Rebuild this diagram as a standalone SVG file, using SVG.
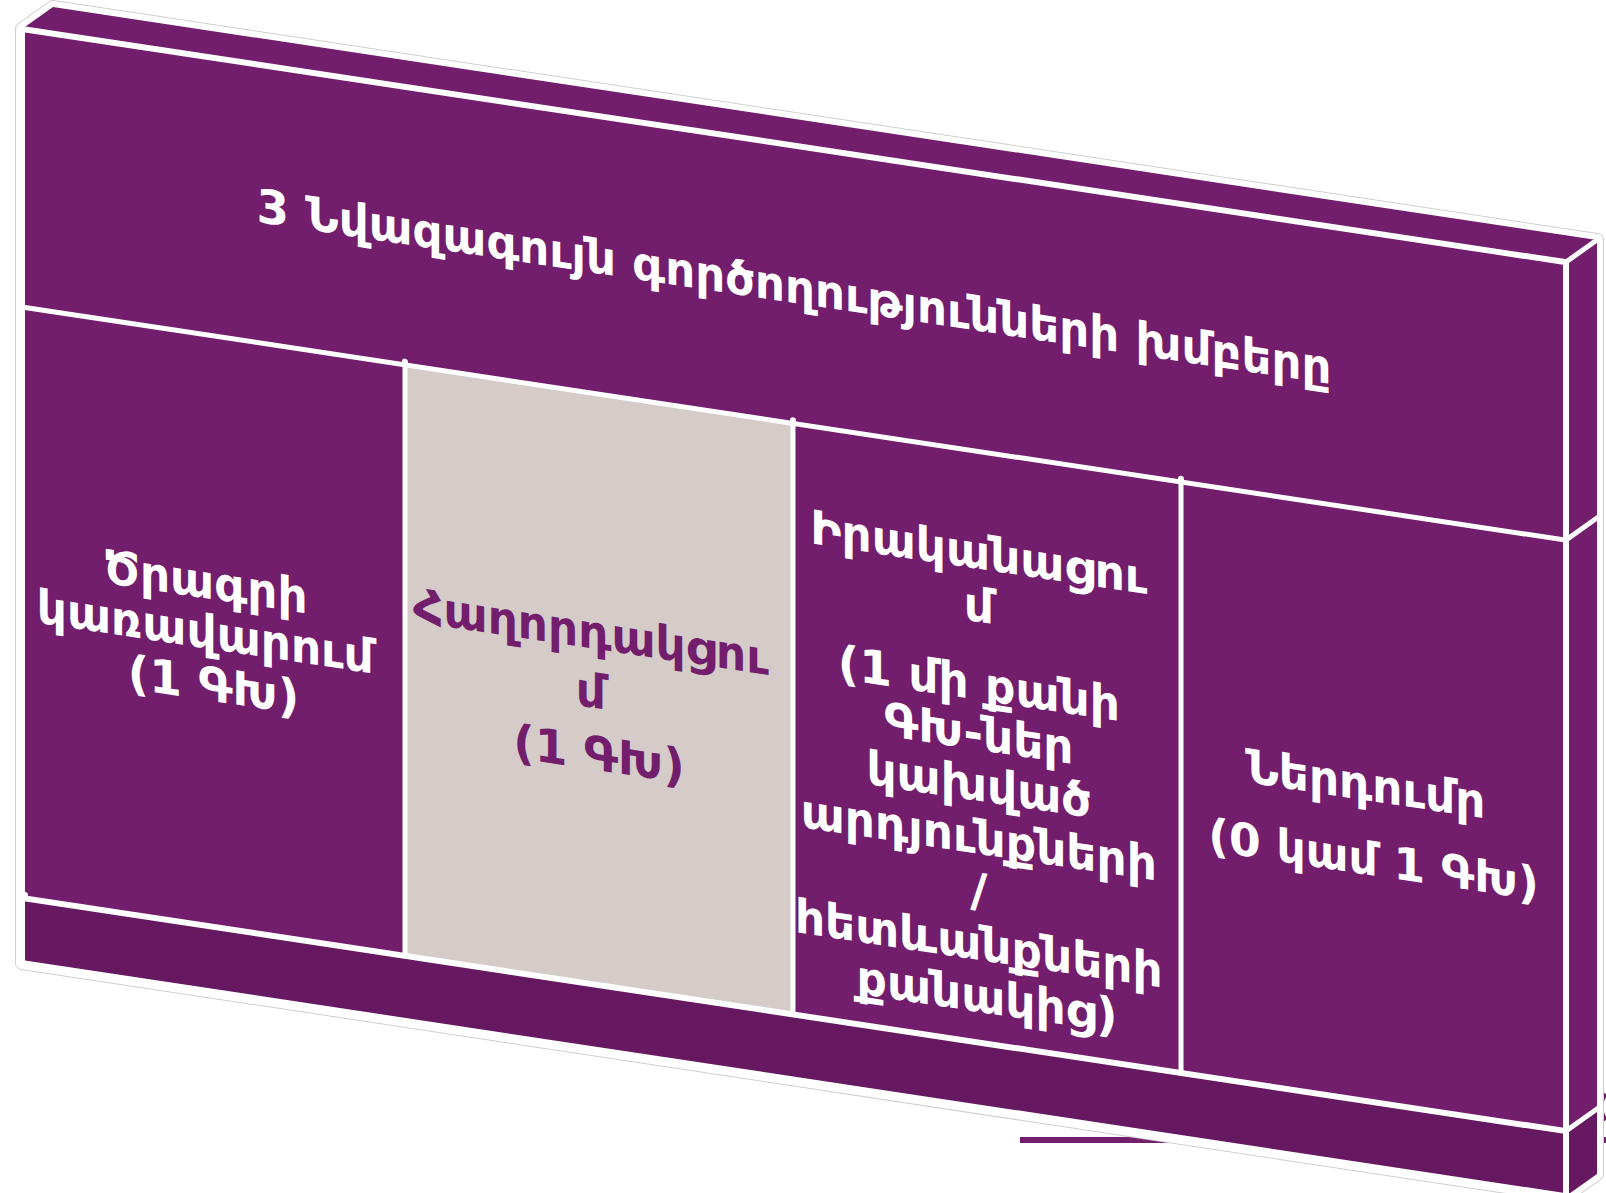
<svg xmlns="http://www.w3.org/2000/svg" width="1606" height="1193" viewBox="0 0 1606 1193">
  <defs>
    <style>
      .face { fill: #731D6D; }
      .dark { fill: #661860; }
      .grey { fill: #D5CCC9; }
      .wl { stroke: #FFFFFF; fill: none; stroke-linecap: square; }
      .tick { fill: #FFFFFF; }
      .t { font-family: "DejaVu Sans", "Noto Sans", sans-serif; font-weight: bold; text-anchor: middle; }
      .tw { fill: #FFFFFF; }
      .tp { fill: #731D6D; }
    </style>
  </defs>
  <rect width="1606" height="1193" fill="#FFFFFF"/>

  <!-- stray fragments below the slab -->
  <g id="fragments">
    <rect x="1020" y="1137" width="200" height="6" class="face"/>
    <rect x="1602" y="1137" width="4" height="6" class="face"/>
    <path d="M1606 1094 Q1601 1100 1601 1107 Q1601 1114 1606 1120" fill="none" stroke="#731D6D" stroke-width="4"/>
  </g>

  <!-- silhouette halo -->
  <g id="slab-outline">
    <polygon points="22,29 53,7 1597,240 1597,1174 1566,1196 22,963" fill="#FFFFFF" stroke="#CFCFCF" stroke-width="14" stroke-linejoin="round"/>
    <polygon points="22,29 53,7 1597,240 1597,1174 1566,1196 22,963" fill="#FFFFFF" stroke="#FFFFFF" stroke-width="12" stroke-linejoin="round"/>
  </g>

  <!-- top face -->
  <g id="top-face">
    <polygon points="22,29 53,7 1597,240 1566,262" class="face"/>
  </g>

  <!-- right face -->
  <g id="right-face">
    <polygon points="1566,262 1597,240 1597,1109 1566,1131" class="face"/>
    <polygon points="1566,1131 1597,1109 1597,1174 1566,1196" class="dark"/>
    <line x1="1566" y1="540" x2="1597" y2="518" class="wl" stroke-width="5"/>
    <line x1="1566" y1="1131" x2="1597" y2="1109" class="wl" stroke-width="5"/>
    <line x1="1566" y1="262" x2="1597" y2="240" class="wl" stroke-width="5"/>
  </g>

  <!-- front face, drawn flat and skewed into perspective -->
  <g id="front" transform="skewY(8.587)">
    <rect x="22" y="25.7" width="1544" height="934" class="face"/>
    <rect x="22" y="894.7" width="1544" height="65" class="dark"/>
    <rect x="405" y="303.7" width="388" height="591" class="grey"/>

    <g id="connectors">
      <line x1="22" y1="303.7" x2="1566" y2="303.7" class="wl" stroke-width="5"/>
      <line x1="22" y1="894.7" x2="1566" y2="894.7" class="wl" stroke-width="6"/>
      <line x1="405" y1="303.7" x2="405" y2="894.7" class="wl" stroke-width="5"/>
      <line x1="793" y1="303.7" x2="793" y2="894.7" class="wl" stroke-width="5"/>
      <line x1="1181" y1="303.7" x2="1181" y2="894.7" class="wl" stroke-width="5"/>
      <rect x="22" y="25.7" width="1544" height="934" class="wl" stroke-width="6"/>
      <circle cx="405" cy="300.5" r="3" class="tick"/>
      <circle cx="793" cy="300.5" r="3" class="tick"/>
      <circle cx="1181" cy="300.5" r="3" class="tick"/>
      <circle cx="25" cy="891" r="3" class="tick"/>
    </g>

    <g id="header">
      <text class="t tw" x="794" y="183" font-size="46.7">3 Նվազագույն գործողությունների խմբերը</text>
    </g>

    <g id="col-1">
      <text class="t tw" font-size="47">
        <tspan x="213.5" y="567">Ծրագրի</tspan>
        <tspan x="213.5" y="617">կառավարում</tspan>
        <tspan x="213.5" y="669">(1 ԳԽ)</tspan>
      </text>
    </g>

    <g id="col-2">
      <text class="t tp" font-size="47">
        <tspan x="599" y="559">Հաղորդակցու</tspan>
        <tspan x="599" y="618">մ</tspan>
        <tspan x="599" y="680">(1 ԳԽ)</tspan>
      </text>
    </g>

    <g id="col-3">
      <text class="t tw" font-size="47">
        <tspan x="987" y="421">Իրականացու</tspan>
        <tspan x="987" y="474">մ</tspan>
        <tspan x="987" y="552">(1 մի քանի</tspan>
        <tspan x="987" y="602">ԳԽ-ներ</tspan>
        <tspan x="987" y="653">կախված</tspan>
        <tspan x="987" y="706">արդյունքների</tspan>
        <tspan x="987" y="759">/</tspan>
        <tspan x="987" y="812">հետևանքների</tspan>
        <tspan x="987" y="864">քանակից)</tspan>
      </text>
    </g>

    <g id="col-4">
      <text class="t tw" font-size="47">
        <tspan x="1373.5" y="594">Ներդումր</tspan>
        <tspan x="1373.5" y="668" font-size="45.5">(0 կամ 1 ԳԽ)</tspan>
      </text>
    </g>
  </g>
</svg>
